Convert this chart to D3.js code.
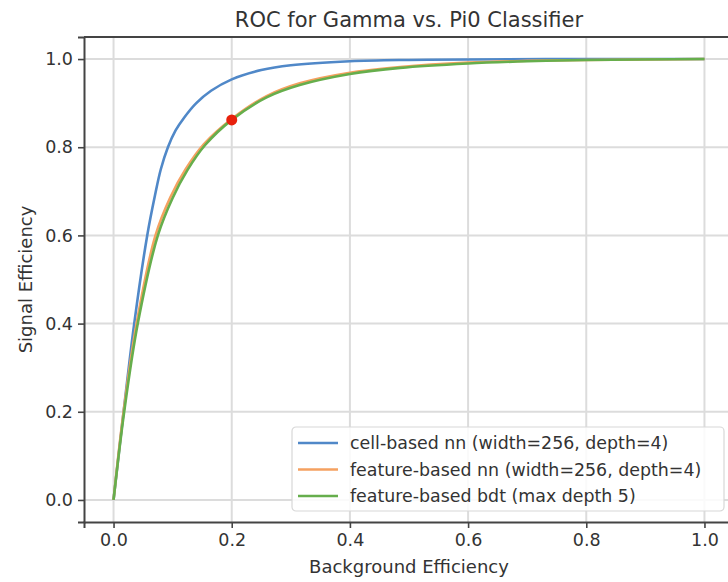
<!DOCTYPE html>
<html>
<head>
<meta charset="utf-8">
<script src="https://cdn.jsdelivr.net/npm/d3@7"></script>
<style>
  body { margin: 0; background: #fff; }
  text { font-family: "DejaVu Sans", sans-serif; fill: #333; }
</style>
</head>
<body>
<div id="chart"></div>
<script>
// ROC curves (background eff., signal eff.)
const cellFpr = [0, 0.017, 0.035, 0.057, 0.07, 0.08, 0.092, 0.105, 0.12, 0.14, 0.165, 0.2, 0.25, 0.3, 0.4, 0.5, 0.6, 0.8, 1.0];
const cellTpr = [0, 0.2, 0.4, 0.6, 0.69, 0.75, 0.8, 0.838, 0.868, 0.9, 0.928, 0.954, 0.975, 0.986, 0.995, 0.998, 0.999, 1.0, 1.0];

const featNnFpr = [0, 0.017, 0.039, 0.071, 0.096, 0.122, 0.153, 0.2, 0.259, 0.315, 0.4, 0.485, 0.6, 0.7, 0.8, 1.0];
const featNnTpr = [0, 0.2, 0.4, 0.6, 0.686, 0.75, 0.807, 0.864, 0.916, 0.945, 0.969, 0.982, 0.992, 0.996, 0.998, 1.0];

const bdtFpr = [0, 0.018, 0.041, 0.075, 0.1, 0.125, 0.155, 0.2, 0.259, 0.315, 0.4, 0.485, 0.6, 0.7, 0.8, 1.0];
const bdtTpr = [0, 0.2, 0.4, 0.6, 0.685, 0.748, 0.805, 0.862, 0.913, 0.941, 0.966, 0.98, 0.99, 0.995, 0.998, 1.0];

const seriesNames = [
  "cell-based nn (width=256, depth=4)",
  "feature-based nn (width=256, depth=4)",
  "feature-based bdt (max depth 5)"
];
const seriesColors = ["#5088c8", "#f5a160", "#66ae4c"];

const workingPoint = [0.2, 0.862];
const tickValues = [0, 0.2, 0.4, 0.6, 0.8, 1.0];

const width = 728, height = 582;
const margin = { top: 37, right: -6, bottom: 60, left: 84 };

const xScale = d3.scaleLinear().domain([-0.05, 1.05]).range([margin.left, width - margin.right]);
const yScale = d3.scaleLinear().domain([-0.05, 1.05]).range([height - margin.bottom, margin.top]);

const svg = d3.select("#chart")
  .append("svg")
    .attr("width", width)
    .attr("height", height);

// grid
svg.append("g")
  .selectAll("line")
  .data(tickValues)
  .enter()
  .append("line")
    .attr("x1", d => xScale(d)).attr("x2", d => xScale(d))
    .attr("y1", yScale.range()[0]).attr("y2", yScale.range()[1])
    .attr("stroke", "#dcdcdc").attr("stroke-width", 2);

svg.append("g")
  .selectAll("line")
  .data(tickValues)
  .enter()
  .append("line")
    .attr("x1", xScale.range()[0]).attr("x2", xScale.range()[1])
    .attr("y1", d => yScale(d)).attr("y2", d => yScale(d))
    .attr("stroke", "#dcdcdc").attr("stroke-width", 2);

const line = d3.line()
  .curve(d3.curveCatmullRom.alpha(0.5))
  .x(d => xScale(d[0]))
  .y(d => yScale(d[1]));

const curves = [
  d3.zip(cellFpr, cellTpr),
  d3.zip(featNnFpr, featNnTpr),
  d3.zip(bdtFpr, bdtTpr)
];

svg.selectAll(".roc")
  .data(curves)
  .enter()
  .append("path")
    .attr("class", "roc")
    .attr("d", d => line(d))
    .attr("fill", "none")
    .attr("stroke", (d, i) => seriesColors[i])
    .attr("stroke-width", 2.6);

svg.append("circle")
  .attr("cx", xScale(workingPoint[0]))
  .attr("cy", yScale(workingPoint[1]))
  .attr("r", 5.5)
  .attr("fill", "#e8210c");

// axes
const xAxis = d3.axisBottom(xScale).tickValues(tickValues).tickFormat(d3.format(".1f")).tickSize(6).tickPadding(6);
const yAxis = d3.axisLeft(yScale).tickValues(tickValues).tickFormat(d3.format(".1f")).tickSize(6).tickPadding(5);

const gx = svg.append("g")
  .attr("transform", `translate(0,${height - margin.bottom})`)
  .call(xAxis);
const gy = svg.append("g")
  .attr("transform", `translate(${margin.left},0)`)
  .call(yAxis);

[gx, gy].forEach(g => {
  g.select(".domain").attr("stroke", "#444").attr("stroke-width", 2);
  g.selectAll(".tick line").attr("stroke", "#444").attr("stroke-width", 1.6);
  g.selectAll(".tick text").attr("font-size", 17.5).attr("fill", "#333")
    .attr("font-family", "DejaVu Sans, sans-serif");
});

// top spine
svg.append("line")
  .attr("x1", margin.left).attr("x2", width)
  .attr("y1", margin.top).attr("y2", margin.top)
  .attr("stroke", "#444").attr("stroke-width", 2);

svg.append("text")
  .attr("x", (xScale.range()[0] + xScale.range()[1]) / 2)
  .attr("y", 27)
  .attr("text-anchor", "middle")
  .attr("font-size", 21)
  .text("ROC for Gamma vs. Pi0 Classifier");

svg.append("text")
  .attr("x", (xScale.range()[0] + xScale.range()[1]) / 2)
  .attr("y", 573)
  .attr("text-anchor", "middle")
  .attr("font-size", 18)
  .text("Background Efficiency");

svg.append("text")
  .attr("transform", `translate(32,${(yScale.range()[0] + yScale.range()[1]) / 2}) rotate(-90)`)
  .attr("text-anchor", "middle")
  .attr("font-size", 18)
  .text("Signal Efficiency");

// legend
const legend = svg.append("g").attr("transform", "translate(292,427)");
legend.append("rect")
  .attr("width", 432).attr("height", 84)
  .attr("rx", 4)
  .attr("fill", "#fff").attr("fill-opacity", 0.85)
  .attr("stroke", "#d8d8d8").attr("stroke-width", 1.2);

const items = legend.selectAll(".item")
  .data(seriesNames)
  .enter()
  .append("g")
    .attr("transform", (d, i) => `translate(0,${16 + i * 26.5})`);

items.append("line")
  .attr("x1", 6).attr("x2", 46)
  .attr("stroke", (d, i) => seriesColors[i])
  .attr("stroke-width", 2.6);

items.append("text")
  .attr("x", 58)
  .attr("dy", "0.35em")
  .attr("font-size", 17.4)
  .text(d => d);
</script>
</body>
</html>
